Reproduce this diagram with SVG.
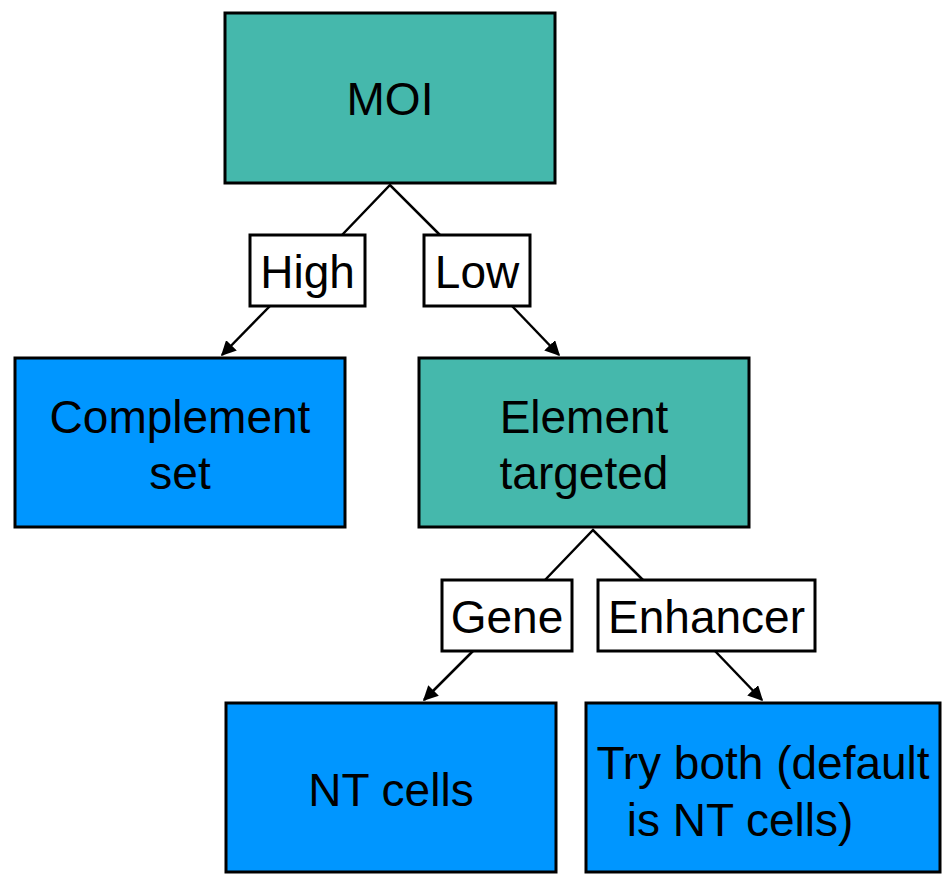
<svg xmlns="http://www.w3.org/2000/svg" width="951" height="882" viewBox="0 0 951 882">
<style>
.box{stroke:#000;stroke-width:3}
.teal{fill:#45B8AC}
.blue{fill:#0096FF}
.lbl{fill:#fff;stroke:#000;stroke-width:3}
text{font-family:"Liberation Sans",Arial,sans-serif;font-size:46px;fill:#000;text-anchor:middle}
.ln{stroke:#000;stroke-width:2.5;fill:none}
</style>
<defs>
<marker id="ah" viewBox="0 0 10 10" refX="9" refY="5" markerWidth="6" markerHeight="6" markerUnits="strokeWidth" orient="auto">
<path d="M0,0 L10,5 L0,10 z" fill="#000"/>
</marker>
</defs>
<rect width="951" height="882" fill="#fff"/>
<g id="connectors">
<polyline class="ln" points="342,235 390,185 440,235"/>
<line class="ln" x1="270" y1="306" x2="222" y2="355" marker-end="url(#ah)"/>
<line class="ln" x1="512" y1="306" x2="559" y2="355" marker-end="url(#ah)"/>
<polyline class="ln" points="545,580 593,530 643,580"/>
<line class="ln" x1="473" y1="651" x2="424" y2="700" marker-end="url(#ah)"/>
<line class="ln" x1="715" y1="651" x2="762" y2="700" marker-end="url(#ah)"/>
</g>
<g id="moi"><rect class="box teal" x="225" y="13" width="330" height="170"/><text x="390" y="115">MOI</text></g>
<g id="complement"><rect class="box blue" x="15" y="358" width="330" height="169"/><text x="180" y="433">Complement</text><text x="180" y="489">set</text></g>
<g id="element"><rect class="box teal" x="419" y="358" width="330" height="169"/><text x="584" y="433">Element</text><text x="584" y="489">targeted</text></g>
<g id="ntcells"><rect class="box blue" x="226" y="703" width="330" height="169"/><text x="391" y="806">NT cells</text></g>
<g id="tryboth"><rect class="box blue" x="586" y="703" width="354" height="169"/><text x="763" y="779">Try both (default</text><text x="740" y="836">is NT cells)</text></g>
<g id="lbl-high"><rect class="lbl" x="250" y="235" width="115" height="71"/><text x="307.5" y="288">High</text></g>
<g id="lbl-low"><rect class="lbl" x="424" y="235" width="106" height="71"/><text x="477" y="288">Low</text></g>
<g id="lbl-gene"><rect class="lbl" x="442" y="580" width="130" height="71"/><text x="507" y="633">Gene</text></g>
<g id="lbl-enhancer"><rect class="lbl" x="598" y="580" width="217" height="71"/><text x="706.5" y="633">Enhancer</text></g>
</svg>
